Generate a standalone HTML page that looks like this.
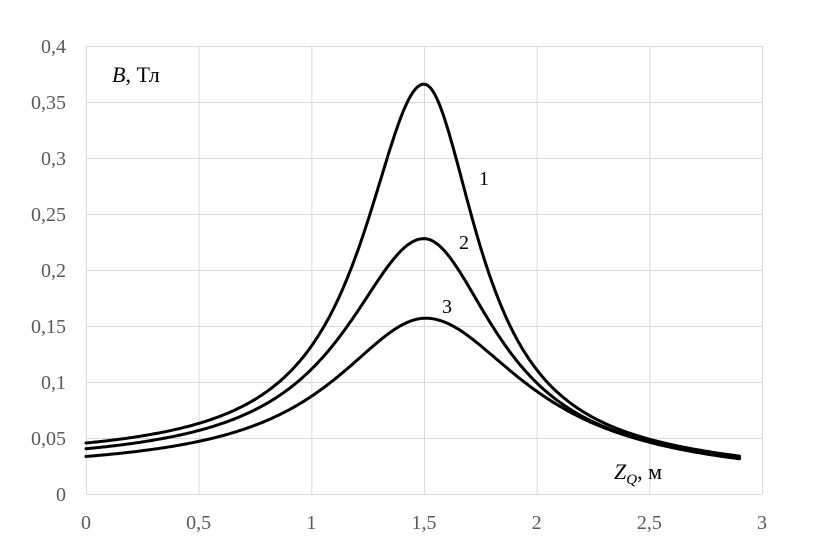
<!DOCTYPE html><html><head><meta charset="utf-8"><style>
body{margin:0;background:#fff}
</style></head><body>
<svg id="s" width="815" height="546" xmlns="http://www.w3.org/2000/svg" font-family="Liberation Serif, serif">
<g stroke="#d9d9d9" stroke-width="1" fill="none" id="grid"></g>
<g id="lab" fill="#595959" font-size="20" font-family="Liberation Serif, serif"></g>
<g id="curves" fill="none" stroke="#000" stroke-width="3" stroke-linejoin="round" stroke-linecap="round"></g>
<text x="112" y="82" font-size="22" font-style="italic" font-family="Liberation Serif, serif">B<tspan font-style="normal">, Тл</tspan></text>
<text x="614" y="479" font-size="22" font-style="italic" font-family="Liberation Serif, serif">Z<tspan font-size="15" dy="5">Q</tspan><tspan font-style="normal" dy="-5">, м</tspan></text>
<text x="479" y="185" font-size="20" font-family="Liberation Serif, serif">1</text>
<text x="459" y="249" font-size="20" font-family="Liberation Serif, serif">2</text>
<text x="442" y="313" font-size="20" font-family="Liberation Serif, serif">3</text>
</svg>
<script>
var NS="http://www.w3.org/2000/svg";
function el(p,t,a,txt){var e=document.createElementNS(NS,t);for(var k in a)e.setAttribute(k,a[k]);if(txt)e.textContent=txt;document.getElementById(p).appendChild(e);}
var L=86,R=762,T=46,B=494;
for(var i=0;i<=6;i++){var x=L+i*(R-L)/6;el("grid","line",{x1:x+.5,x2:x+.5,y1:T,y2:B});
 el("lab","text",{x:x,y:529,"text-anchor":"middle"},(i/2).toString().replace(".",","));}
for(var j=0;j<=8;j++){var y=B-j*(B-T)/8;el("grid","line",{x1:L,x2:R,y1:y+.5,y2:y+.5});
 var v=+(j*0.05).toFixed(2);el("lab","text",{x:66,y:y+7,"text-anchor":"end"},v.toString().replace(".",","));}
var P=[{A:0.366,c0:0.03,ce:0.02,wl:0.33,wr:0.29,m:1.5},
       {A:0.228,c0:0.025,ce:0.018,wl:0.43,wr:0.39,m:1.5},
       {A:0.157,c0:0.02,ce:0.014,wl:0.5,wr:0.53,m:1.51}];
P.forEach(function(q){
 var s="";
 for(var x=0;x<=2.9001;x+=0.01){
  var d=x-q.m,w=d<0?q.wl:q.wr,c=d<0?q.c0:q.c0-(q.c0-q.ce)*d/(2.9-q.m);
  var b=c+(q.A-q.c0)/(1+(d/w)*(d/w));
  var px=L+x*(R-L)/3,py=B-b*(B-T)/0.4;
  s+=(s?"L":"M")+px.toFixed(1)+","+py.toFixed(1);
 }
 el("curves","path",{d:s});});
</script>
</body></html>
